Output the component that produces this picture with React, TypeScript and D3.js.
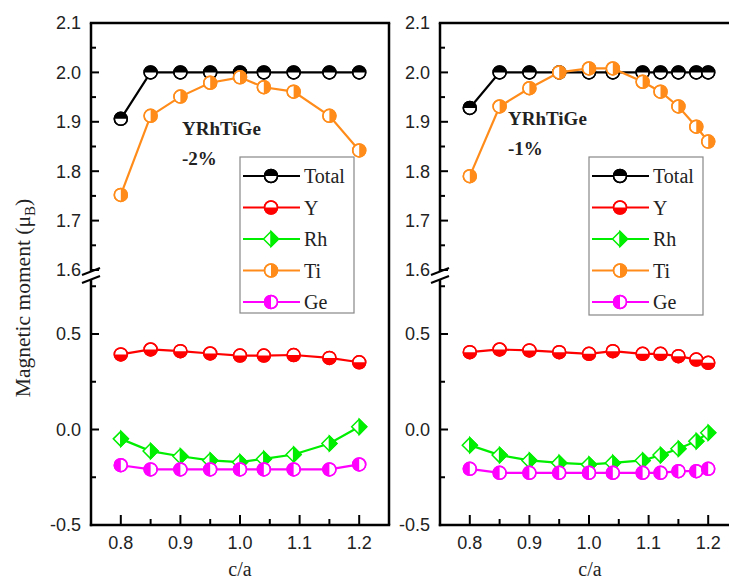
import React from "react";
import * as d3 from "d3";

// ---------- data ----------
const xLeft = [0.8, 0.85, 0.9, 0.95, 1.0, 1.04, 1.09, 1.15, 1.2];
const totalLeft = [1.906, 2.0, 2.0, 2.0, 2.0, 2.0, 2.0, 2.0, 2.0];
const tiLeft = [1.752, 1.912, 1.951, 1.979, 1.99, 1.97, 1.961, 1.912, 1.842];
const yLeft = [0.393, 0.419, 0.41, 0.398, 0.387, 0.387, 0.39, 0.375, 0.352];
const rhLeft = [-0.049, -0.113, -0.14, -0.162, -0.171, -0.154, -0.131, -0.073, 0.014];
const geLeft = [-0.187, -0.209, -0.209, -0.209, -0.209, -0.209, -0.209, -0.209, -0.183];

const xRight = [0.8, 0.85, 0.9, 0.95, 1.0, 1.04, 1.09, 1.12, 1.15, 1.18, 1.2];
const totalRight = [1.928, 2.0, 2.0, 2.0, 2.0, 2.0, 2.0, 2.0, 2.0, 2.0, 2.0];
const tiRight = [1.79, 1.931, 1.968, 2.0, 2.008, 2.008, 1.981, 1.961, 1.931, 1.89, 1.86];
const yRight = [0.405, 0.419, 0.414, 0.405, 0.396, 0.41, 0.396, 0.396, 0.384, 0.366, 0.349];
const rhRight = [-0.082, -0.134, -0.162, -0.175, -0.183, -0.175, -0.162, -0.134, -0.101, -0.061, -0.017];
const geRight = [-0.206, -0.227, -0.227, -0.227, -0.227, -0.227, -0.227, -0.227, -0.218, -0.218, -0.206];

const seriesNames = ["Total", "Y", "Rh", "Ti", "Ge"];
const upperTicks = [1.6, 1.7, 1.8, 1.9, 2.0, 2.1];
const upperMinor = [1.65, 1.75, 1.85, 1.95, 2.05];
const lowerTicks = [-0.5, 0.0, 0.5];
const lowerMinor = [-0.25, 0.25, 0.75];
const xTicks = [0.8, 0.9, 1.0, 1.1, 1.2];
const xMinor = [0.85, 0.95, 1.05, 1.15];
const panelLabels = ["-2%", "-1%"];

type MarkerKind = "top" | "bottom" | "diamondRight" | "right" | "left";
const styles: Record<string, { color: string; kind: MarkerKind; upper: boolean }> = {
  Total: { color: "#000000", kind: "top", upper: true },
  Y: { color: "#ff0000", kind: "bottom", upper: false },
  Rh: { color: "#00ee00", kind: "diamondRight", upper: false },
  Ti: { color: "#ff8c1a", kind: "right", upper: true },
  Ge: { color: "#ff00ff", kind: "left", upper: false },
};

const R = 6.5;
const D = 7.5;

function Marker({ x, y, color, kind }: { x: number; y: number; color: string; kind: MarkerKind }) {
  if (kind === "diamondRight") {
    const outline = `M0,${-D} L${D},0 L0,${D} L${-D},0 Z`;
    const half = `M0,${-D} L${D},0 L0,${D} Z`;
    return (
      <g transform={`translate(${x},${y})`}>
        <path d={outline} fill="#fff" stroke={color} strokeWidth={1.5} />
        <path d={half} fill={color} stroke={color} strokeWidth={1.5} />
      </g>
    );
  }
  let half = "";
  if (kind === "top") half = `M${-R},0 A${R},${R} 0 0 1 ${R},0 Z`;
  if (kind === "bottom") half = `M${-R},0 A${R},${R} 0 0 0 ${R},0 Z`;
  if (kind === "right") half = `M0,${-R} A${R},${R} 0 0 1 0,${R} Z`;
  if (kind === "left") half = `M0,${-R} A${R},${R} 0 0 0 0,${R} Z`;
  return (
    <g transform={`translate(${x},${y})`}>
      <circle r={R} fill="#fff" stroke={color} strokeWidth={1.5} />
      <path d={half} fill={color} />
      <circle r={R} fill="none" stroke={color} strokeWidth={1.5} />
    </g>
  );
}

const TOP = 23;
const UPPER_END = 271;
const LOWER_START = 279;
const BOTTOM = 525;
const yUpper = d3.scaleLinear().domain([1.6, 2.1]).range([270, TOP]);
const yLower = d3.scaleLinear().domain([-0.5, 0.5]).range([BOTTOM, 334]);

function Panel({
  x0,
  x1,
  xs,
  data,
  label,
  labelPos,
  legendPos,
  cax,
}: {
  x0: number;
  x1: number;
  xs: number[];
  data: Record<string, number[]>;
  label: string;
  labelPos: [number, number, number];
  legendPos: [number, number, number, number];
  cax: number;
}) {
  const x = d3.scaleLinear().domain([0.75, 1.25]).range([x0, x1]);
  const sansFont = "'Liberation Sans', Arial, sans-serif";
  const serifFont = "'Liberation Serif', 'Times New Roman', serif";
  const [lx0, ly0, lx1, ly1] = legendPos;
  return (
    <g>
      {/* series */}
      {seriesNames.map((name) => {
        const st = styles[name];
        const ys = st.upper ? yUpper : yLower;
        const vals = data[name];
        const line = d3
          .line<number>()
          .x((_, i) => x(xs[i]))
          .y((v) => ys(v));
        return (
          <g key={name}>
            <path d={line(vals) || ""} fill="none" stroke={st.color} strokeWidth={2.2} />
            {vals.map((v, i) => (
              <Marker key={i} x={x(xs[i])} y={ys(v)} color={st.color} kind={st.kind} />
            ))}
          </g>
        );
      })}

      {/* frame */}
      <line x1={x0} x2={x0} y1={TOP} y2={UPPER_END} stroke="#000" strokeWidth={2.5} />
      <line x1={x0} x2={x0} y1={LOWER_START} y2={BOTTOM + 1.2} stroke="#000" strokeWidth={2.5} />
      <line x1={x0 - 1.2} x2={x1 + 1.2} y1={TOP} y2={TOP} stroke="#000" strokeWidth={2.5} />
      <line x1={x0 - 1.2} x2={x1 + 1.2} y1={BOTTOM} y2={BOTTOM} stroke="#000" strokeWidth={2.5} />
      <line x1={x1} x2={x1} y1={TOP} y2={BOTTOM} stroke="#000" strokeWidth={2.5} />
      {/* break marks */}
      <line x1={x0 - 9} x2={x0 + 9} y1={UPPER_END + 4} y2={UPPER_END - 3} stroke="#000" strokeWidth={2} />
      <line x1={x0 - 9} x2={x0 + 9} y1={LOWER_START + 4} y2={LOWER_START - 3} stroke="#000" strokeWidth={2} />

      {/* y ticks */}
      {upperTicks.map((t) => (
        <g key={"u" + t}>
          <line x1={x0} x2={x0 + 8} y1={yUpper(t)} y2={yUpper(t)} stroke="#000" strokeWidth={2} />
          <text x={x0 - 10} y={yUpper(t)} dy="0.36em" textAnchor="end" fontFamily={sansFont} fontSize={18} fill="#222">
            {t.toFixed(1)}
          </text>
        </g>
      ))}
      {upperMinor.map((t) => (
        <line key={"um" + t} x1={x0} x2={x0 + 5} y1={yUpper(t)} y2={yUpper(t)} stroke="#000" strokeWidth={2} />
      ))}
      {lowerTicks.map((t) => (
        <g key={"l" + t}>
          <line x1={x0} x2={x0 + 8} y1={yLower(t)} y2={yLower(t)} stroke="#000" strokeWidth={2} />
          <text x={x0 - 10} y={yLower(t)} dy="0.36em" textAnchor="end" fontFamily={sansFont} fontSize={18} fill="#222">
            {t.toFixed(1)}
          </text>
        </g>
      ))}
      {lowerMinor.map((t) => (
        <line key={"lm" + t} x1={x0} x2={x0 + 5} y1={yLower(t)} y2={yLower(t)} stroke="#000" strokeWidth={2} />
      ))}

      {/* x ticks */}
      {xTicks.map((t) => (
        <g key={"x" + t}>
          <line x1={x(t)} x2={x(t)} y1={BOTTOM} y2={BOTTOM - 10} stroke="#000" strokeWidth={2} />
          <text x={x(t)} y={549} textAnchor="middle" fontFamily={sansFont} fontSize={18} fill="#222">
            {t.toFixed(1)}
          </text>
        </g>
      ))}
      {xMinor.map((t) => (
        <line key={"xm" + t} x1={x(t)} x2={x(t)} y1={BOTTOM} y2={BOTTOM - 6} stroke="#000" strokeWidth={2} />
      ))}
      <text x={cax} y={576} textAnchor="middle" fontFamily={serifFont} fontSize={20} fill="#222">
        c/a
      </text>

      {/* annotation */}
      <text x={labelPos[0]} y={labelPos[1]} fontFamily={serifFont} fontWeight="bold" fontSize={19} fill="#222">
        YRhTiGe
      </text>
      <text x={labelPos[0]} y={labelPos[2]} fontFamily={serifFont} fontWeight="bold" fontSize={19} fill="#222">
        {label}
      </text>

      {/* legend */}
      <rect x={lx0} y={ly0} width={lx1 - lx0} height={ly1 - ly0} fill="#fff" stroke="#888" strokeWidth={1.2} />
      {seriesNames.map((name, i) => {
        const st = styles[name];
        const cy = ly0 + 19 + i * 31.5;
        const mx = lx0 + 31;
        return (
          <g key={"leg" + name}>
            <line x1={lx0 + 3} x2={lx0 + 60} y1={cy} y2={cy} stroke={st.color} strokeWidth={2.2} />
            <Marker x={mx} y={cy} color={st.color} kind={st.kind} />
            <text x={lx0 + 64} y={cy + 7} fontFamily={serifFont} fontSize={20} fill="#222">
              {name}
            </text>
          </g>
        );
      })}
    </g>
  );
}

export default function App() {
  const serifFont = "'Liberation Serif', 'Times New Roman', serif";
  return (
    <svg
      width={729}
      height={579}
      style={{ position: "absolute", left: 0, top: 0, background: "#fff" }}
    >
      <rect x={0} y={0} width={729} height={579} fill="#fff" />
      <Panel
        x0={91}
        x1={389}
        xs={xLeft}
        data={{ Total: totalLeft, Y: yLeft, Rh: rhLeft, Ti: tiLeft, Ge: geLeft }}
        label={panelLabels[0]}
        labelPos={[182, 135, 165]}
        legendPos={[240, 157, 354, 313]}
        cax={240}
      />
      <Panel
        x0={440}
        x1={738}
        xs={xRight}
        data={{ Total: totalRight, Y: yRight, Rh: rhRight, Ti: tiRight, Ge: geRight }}
        label={panelLabels[1]}
        labelPos={[508, 125, 155]}
        legendPos={[589, 157, 703, 315]}
        cax={590}
      />
      <text
        transform="translate(30,298) rotate(-90)"
        textAnchor="middle"
        fontFamily={serifFont}
        fontSize={21.5}
        fill="#222"
      >
        Magnetic moment (μ
        <tspan dy={5} fontSize={15}>B</tspan>
        <tspan dy={-5}>)</tspan>
      </text>
    </svg>
  );
}
